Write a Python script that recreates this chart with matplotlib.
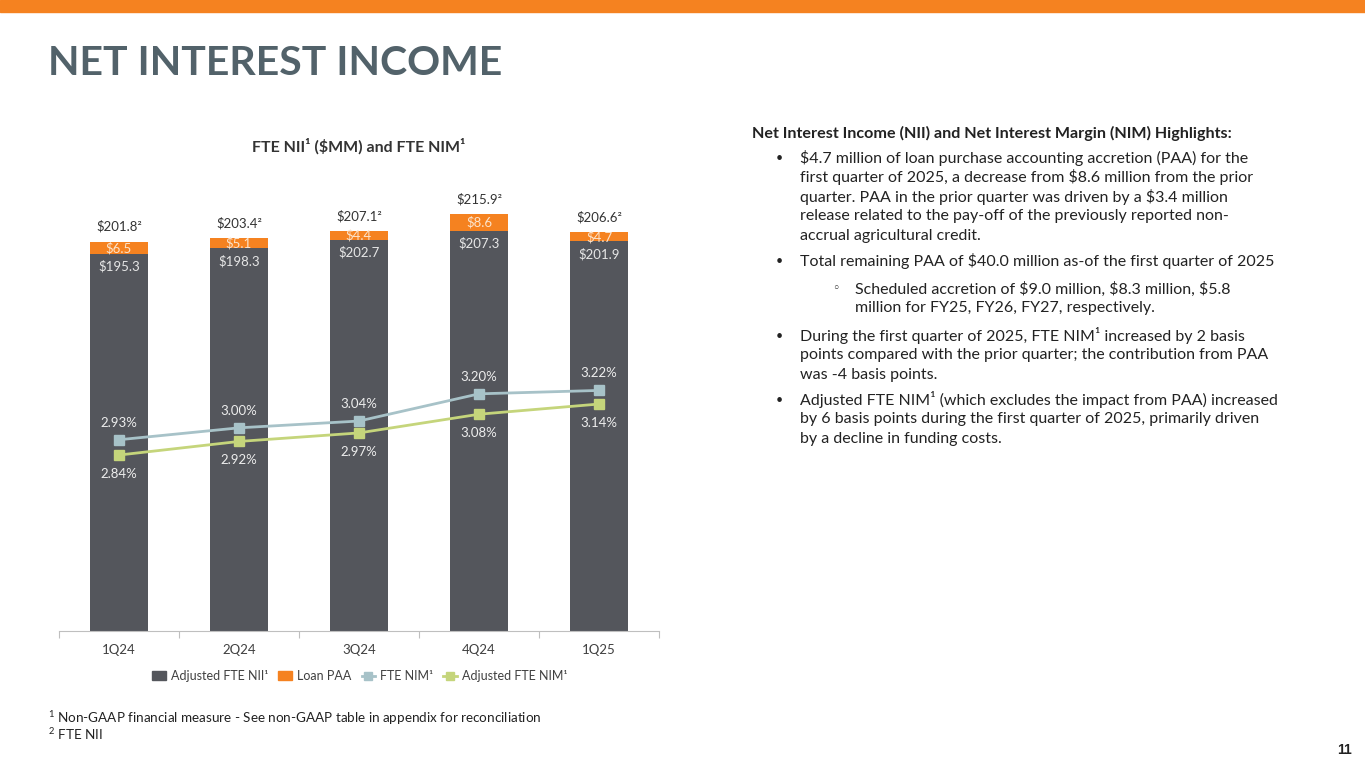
import matplotlib.pyplot as plt
import numpy as np

# data
quarters = ['1Q24', '2Q24', '3Q24', '4Q24', '1Q25']
adj_nii = [195.3, 198.3, 202.7, 207.3, 201.9]
loan_paa = [6.5, 5.1, 4.4, 8.6, 4.7]
fte_nii = [201.8, 203.4, 207.1, 215.9, 206.6]
fte_nim = [2.93, 3.00, 3.04, 3.20, 3.22]
adj_nim = [2.84, 2.92, 2.97, 3.08, 3.14]

bullets = [
    ["$4.7 million of loan purchase accounting accretion (PAA) for the",
     "first quarter of 2025, a decrease from $8.6 million from the prior",
     "quarter. PAA in the prior quarter was driven by a $3.4 million",
     "release related to the pay-off of the previously reported non-",
     "accrual agricultural credit."],
    ["Total remaining PAA of $40.0 million as-of the first quarter of 2025"],
    ["During the first quarter of 2025, FTE NIM¹ increased by 2 basis",
     "points compared with the prior quarter; the contribution from PAA",
     "was -4 basis points."],
    ["Adjusted FTE NIM¹ (which excludes the impact from PAA) increased",
     "by 6 basis points during the first quarter of 2025, primarily driven",
     "by a decline in funding costs."],
]
sub_bullet = ["Scheduled accretion of $9.0 million, $8.3 million, $5.8",
              "million for FY25, FY26, FY27, respectively."]

DARK = '#54565C'
ORANGE = '#F58220'
BLUE = '#A7C2C8'
GREEN = '#C5D57B'
TITLE = '#52626A'
FONT = ['Lato', 'DejaVu Sans']

plt.rcParams['font.family'] = FONT
plt.rcParams['mathtext.fontset'] = 'custom'
plt.rcParams['mathtext.rm'] = 'Lato'

W, H = 1365, 768
fig = plt.figure(figsize=(W / 100, H / 100), dpi=100)


def fx(x):
    return x / W


def fy(y):
    return 1 - y / H


# orange band on top
fig.patches.append(plt.Rectangle((0, fy(12)), 1, 12 / H, transform=fig.transFigure,
                                 color=ORANGE, zorder=0))
fig.text(fx(48), fy(75), 'NET INTEREST INCOME', fontsize=29.5, fontweight='bold',
         color=TITLE, va='baseline')

# chart
ax = fig.add_axes([fx(59), fy(631), fx(600), (631 - 148.5) / H])
x = np.arange(len(quarters))
bw = 0.49
ax.bar(x, adj_nii, bw, color=DARK, zorder=2)
ax.bar(x, loan_paa, bw, bottom=adj_nii, color=ORANGE, zorder=2)
ax.set_xlim(-0.5, 4.5)
ax.set_ylim(0, 250)
for i in range(len(x)):
    ax.text(x[i], adj_nii[i] - 6.5, f'${adj_nii[i]:.1f}', ha='center', va='center',
            fontsize=9.5, color='#E6E6E6', zorder=5)
    ax.text(x[i], adj_nii[i] + loan_paa[i] / 2, f'${loan_paa[i]:.1f}', ha='center',
            va='center', fontsize=9.5, color='#FCE4CC', zorder=5)
    ax.text(x[i], fte_nii[i] + 4.5, f'${fte_nii[i]:.1f}²', ha='center', va='bottom',
            fontsize=9.5, color='#333333', zorder=5)

for s in ['top', 'left', 'right']:
    ax.spines[s].set_visible(False)
ax.spines['bottom'].set_color('#BFBFBF')
ax.set_yticks([])
ax.set_xticks(np.arange(-0.5, 5, 1.0))
ax.set_xticklabels([])
ax.set_xticks(x, minor=True)
ax.set_xticklabels(quarters, minor=True, fontsize=9.5, color='#404040')
ax.tick_params(axis='x', which='major', length=5, color='#BFBFBF')
ax.tick_params(axis='x', which='minor', length=0, pad=9)

ax2 = ax.twinx()
ax2.set_ylim(1.805, 4.643)
ax2.axis('off')
ax2.plot(x, fte_nim, color=BLUE, lw=2, marker='s', ms=7, zorder=3)
ax2.plot(x, adj_nim, color=GREEN, lw=2, marker='s', ms=7, zorder=3)
for i in range(len(x)):
    ax2.text(x[i], fte_nim[i] + 0.1, f'{fte_nim[i]:.2f}%', ha='center', va='center',
             fontsize=9.5, color='#EDEDED')
    ax2.text(x[i], adj_nim[i] - 0.11, f'{adj_nim[i]:.2f}%', ha='center', va='center',
             fontsize=9.5, color='#EDEDED')

fig.text(fx(359), fy(146), 'FTE NII¹ ($MM) and FTE NIM¹', ha='center', va='center',
         fontsize=11.5, fontweight='bold', color='#333333')

h1 = plt.Rectangle((0, 0), 1, 1, color=DARK)
h2 = plt.Rectangle((0, 0), 1, 1, color=ORANGE)
l1, = ax2.plot([], [], color=BLUE, lw=2, marker='s', ms=6)
l2, = ax2.plot([], [], color=GREEN, lw=2, marker='s', ms=6)
fig.legend([h1, h2, l1, l2], ['Adjusted FTE NII¹', 'Loan PAA', 'FTE NIM¹', 'Adjusted FTE NIM¹'],
           loc='center', bbox_to_anchor=(fx(360), fy(676)), ncol=4, frameon=False,
           fontsize=9, handlelength=1.1, handletextpad=0.4, columnspacing=0.8,
           labelcolor='#404040')

# footnotes
fig.text(fx(48), fy(718), '$^1$ Non-GAAP financial measure - See non-GAAP table in appendix for reconciliation',
         fontsize=9.7, color='#222222', va='center')
fig.text(fx(48), fy(734), '$^2$ FTE NII', fontsize=9.7, color='#222222', va='center')
fig.text(fx(1352), fy(750), '11', fontsize=10, fontweight='bold', color='#222222',
         ha='right', va='center', family='Liberation Sans')

# right side text
fig.text(fx(752), fy(133), 'Net Interest Income (NII) and Net Interest Margin (NIM) Highlights:',
         fontsize=11.6, fontweight='bold', color='#222222', va='center')
TS = 11.5
LH = 19.4
ys = [158, 261, 336, 400]
for b, y0 in zip(bullets, ys):
    fig.text(fx(776), fy(y0), '•', fontsize=9, color='#222222', va='center')
    for j, line in enumerate(b):
        fig.text(fx(800), fy(y0 + j * LH), line, fontsize=TS, color='#222222', va='center')
fig.text(fx(832), fy(289), '◦', fontsize=9, color='#222222', va='center', family='DejaVu Sans')
for j, line in enumerate(sub_bullet):
    fig.text(fx(855), fy(289 + j * LH), line, fontsize=TS, color='#222222', va='center')

fig.savefig('out.png', dpi=100)
